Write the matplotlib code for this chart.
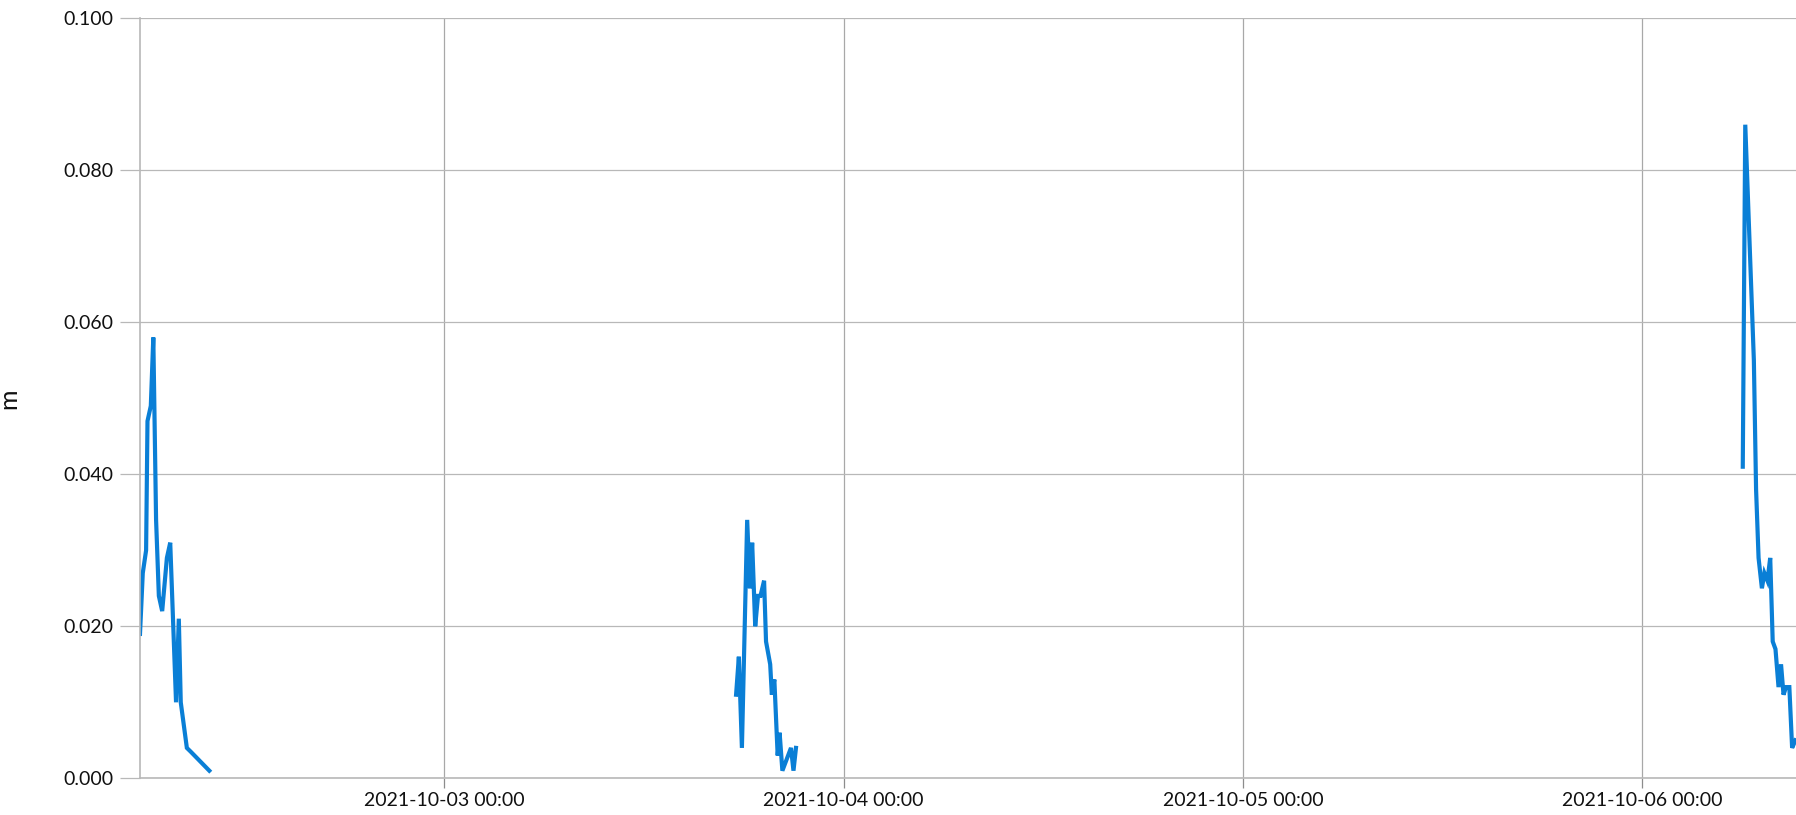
import matplotlib
matplotlib.use("Agg")
import matplotlib.pyplot as plt
import matplotlib.dates as mdates
import numpy as np
import pandas as pd

# three measurement bursts (time, value in m)
times_1 = ["2021-10-02 05:42", "2021-10-02 05:52", "2021-10-02 06:04", "2021-10-02 06:09",
           "2021-10-02 06:21", "2021-10-02 06:30", "2021-10-02 06:40", "2021-10-02 06:50",
           "2021-10-02 07:02", "2021-10-02 07:19", "2021-10-02 07:31", "2021-10-02 07:52",
           "2021-10-02 08:02", "2021-10-02 08:09", "2021-10-02 08:31", "2021-10-02 08:45",
           "2021-10-02 09:52"]
values_1 = [0.019, 0.027, 0.030, 0.047, 0.049, 0.058, 0.034, 0.024,
            0.022, 0.029, 0.031, 0.010, 0.021, 0.010, 0.004, 0.0035, 0.001]

times_2 = ["2021-10-03 17:32", "2021-10-03 17:42", "2021-10-03 17:53", "2021-10-03 18:12",
           "2021-10-03 18:22", "2021-10-03 18:30", "2021-10-03 18:41", "2021-10-03 18:51",
           "2021-10-03 19:00", "2021-10-03 19:13", "2021-10-03 19:20", "2021-10-03 19:35",
           "2021-10-03 19:41", "2021-10-03 19:50", "2021-10-03 20:02", "2021-10-03 20:09",
           "2021-10-03 20:19", "2021-10-03 20:50", "2021-10-03 20:59", "2021-10-03 21:08"]
values_2 = [0.011, 0.016, 0.004, 0.034, 0.025, 0.031, 0.020, 0.024,
            0.024, 0.026, 0.018, 0.015, 0.011, 0.013, 0.003, 0.006,
            0.001, 0.004, 0.001, 0.004]

times_3 = ["2021-10-06 06:03", "2021-10-06 06:12", "2021-10-06 06:43", "2021-10-06 06:51",
           "2021-10-06 07:00", "2021-10-06 07:12", "2021-10-06 07:21", "2021-10-06 07:32",
           "2021-10-06 07:42", "2021-10-06 07:51", "2021-10-06 08:01", "2021-10-06 08:12",
           "2021-10-06 08:21", "2021-10-06 08:30", "2021-10-06 08:39", "2021-10-06 08:51",
           "2021-10-06 09:01", "2021-10-06 09:13"]
values_3 = [0.041, 0.086, 0.055, 0.038, 0.029, 0.025, 0.027, 0.026,
            0.029, 0.018, 0.017, 0.012, 0.015, 0.011, 0.012, 0.012,
            0.004, 0.005]

x_start = "2021-10-02 05:42"
x_end = "2021-10-06 09:15"
y_ticks = [0.0, 0.02, 0.04, 0.06, 0.08, 0.1]

plt.rcParams['font.family'] = ['Lato', 'DejaVu Sans']
grey = '#b8b8b8'
line_col = '#0a7fd6'

fig = plt.figure(figsize=(17.96, 8.15), dpi=100)
ax = fig.add_axes([140/1796, 1 - 778.3/815, 1 - 140/1796, (778.3 - 18.3)/815])

for t, v in [(times_1, values_1), (times_2, values_2), (times_3, values_3)]:
    ax.plot(pd.to_datetime(t), v, color=line_col, linewidth=3.0, solid_joinstyle='miter')

ax.set_xlim(pd.Timestamp(x_start), pd.Timestamp(x_end))
ax.set_ylim(0, 0.1)
ax.set_yticks(y_ticks)
ax.yaxis.set_major_formatter(plt.FuncFormatter(lambda v, p: f"{v:.3f}"))
ax.xaxis.set_major_locator(mdates.DayLocator())
ax.xaxis.set_major_formatter(mdates.DateFormatter('%Y-%m-%d %H:%M'))

ax.grid(axis='y', color=grey, linewidth=0.9)
ax.grid(axis='x', color='#a8a8a8', linewidth=0.9)
ax.set_axisbelow(True)
for s in ['top', 'right']:
    ax.spines[s].set_visible(False)
for s in ['left', 'bottom']:
    ax.spines[s].set_color(grey)
    ax.spines[s].set_linewidth(1.2)

ax.tick_params(axis='y', length=14.4, width=0.9, color=grey, pad=5, labelsize=14, labelcolor='#111111')
ax.tick_params(axis='x', length=7.2, width=0.9, color='#8c8c8c', pad=3, labelsize=14, labelcolor='#111111')

ax.set_ylabel('m', fontsize=18, color='#111111')
ax.yaxis.set_label_coords(-0.0725, 0.5)

fig.savefig('out.png', dpi=100)
